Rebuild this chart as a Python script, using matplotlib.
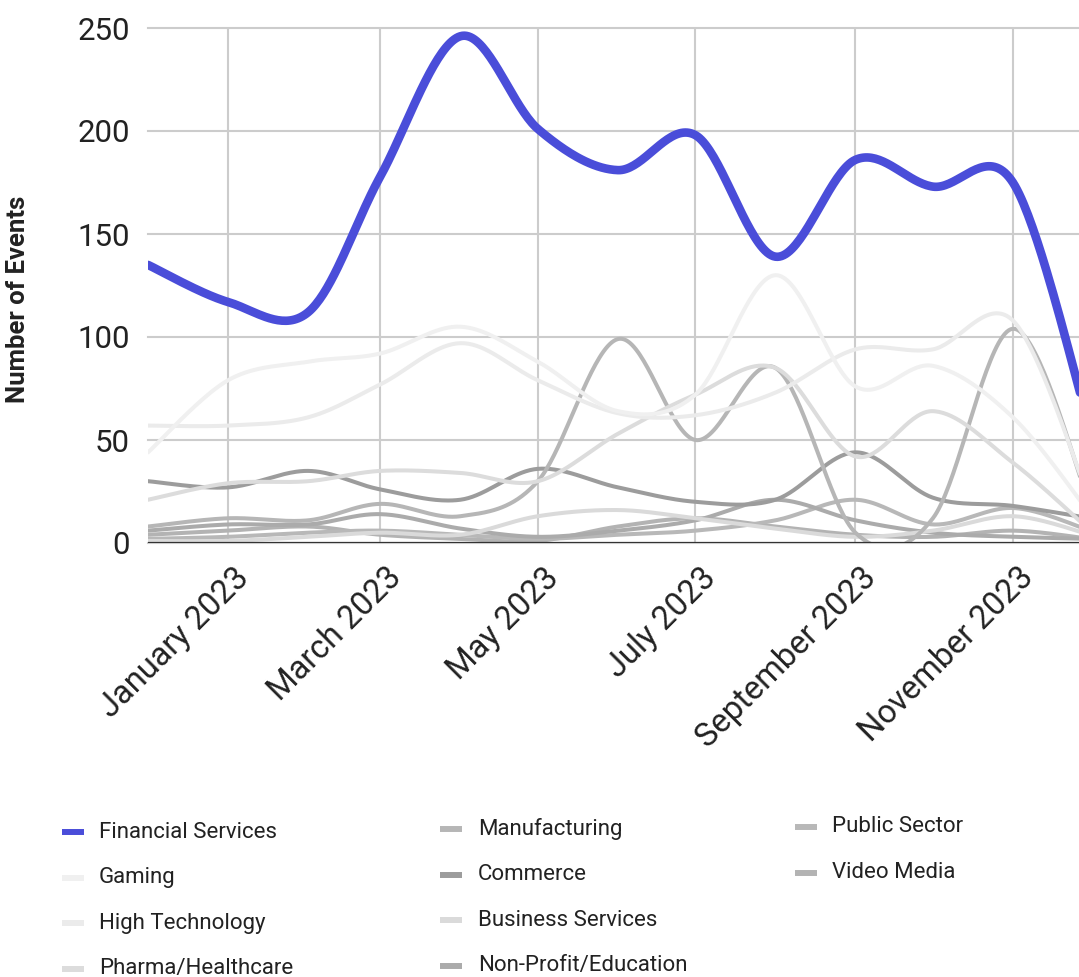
import datetime as dt
import numpy as np
import matplotlib
matplotlib.use("Agg")
import matplotlib.pyplot as plt
import matplotlib.dates as mdates
from matplotlib.lines import Line2D
from matplotlib.transforms import ScaledTranslation

plt.rcParams['font.family'] = ['Roboto', 'DejaVu Sans']

# Monthly event counts per industry, December 2022 - December 2023
months = [dt.date(2022, 12, 1)] + [dt.date(2023, m, 1) for m in range(1, 13)]

financial_services = [135, 117, 112, 178, 246, 201, 181, 198, 139, 186, 173, 175, 55]
gaming = [44, 79, 88, 92, 105, 88, 64, 72, 130, 76, 86, 61, 14]
high_technology = [57, 57, 61, 77, 97, 79, 63, 62, 73, 94, 94, 108, 20]
pharma_healthcare = [21, 29, 30, 35, 34, 30, 53, 72, 85, 42, 64, 39, 6]
manufacturing = [8, 12, 11, 19, 13, 30, 99, 50, 85, 5, 12, 104, 18]
commerce = [30, 27, 35, 26, 21, 36, 27, 20, 21, 44, 22, 18, 12]
business_services = [1, 1, 3, 5, 4, 13, 16, 12, 7, 3, 6, 13, 4]
non_profit_education = [6, 9, 9, 14, 7, 3, 6, 11, 21, 11, 5, 3, 2]
public_sector = [2, 3, 5, 6, 4, 2, 4, 6, 11, 21, 9, 17, 6]
video_media = [4, 6, 8, 4, 2, 1, 8, 12, 8, 4, 3, 6, 2]

series = [
    ("Financial Services", financial_services, "#4a4dd9"),
    ("Gaming", gaming, "#f0f0f0"),
    ("High Technology", high_technology, "#ebebeb"),
    ("Pharma/Healthcare", pharma_healthcare, "#dcdcdc"),
    ("Manufacturing", manufacturing, "#b6b6b6"),
    ("Commerce", commerce, "#9c9c9c"),
    ("Business Services", business_services, "#dadada"),
    ("Non-Profit/Education", non_profit_education, "#ababab"),
    ("Public Sector", public_sector, "#b8b8b8"),
    ("Video Media", video_media, "#b3b3b3"),
]


def smooth(x, y, steps=40):
    """Cubic Bezier curve through every point (Catmull-Rom style tangents)."""
    x = np.asarray(x, float)
    y = np.asarray(y, float)
    px = np.concatenate([[x[0]], x, [x[-1]]])
    py = np.concatenate([[y[0]], y, [y[-1]]])
    t = np.linspace(0, 1, steps)

    def bez(a, b, c, d):
        return (1 - t) ** 3 * a + 3 * (1 - t) ** 2 * t * b + 3 * (1 - t) * t ** 2 * c + t ** 3 * d

    xs, ys = [], []
    for i in range(len(x) - 1):
        x0, x1, x2, x3 = px[i:i + 4]
        y0, y1, y2, y3 = py[i:i + 4]
        xs.append(bez(x1, x1 + (x2 - x0) / 6, x2 - (x3 - x1) / 6, x2))
        ys.append(bez(y1, y1 + (y2 - y0) / 6, y2 - (y3 - y1) / 6, y2))
    return np.concatenate(xs), np.concatenate(ys)


W, H = 1079, 977
fig = plt.figure(figsize=(W / 100, H / 100), dpi=100)
ax = fig.add_axes([148 / W, 1 - 543 / H, (W - 148) / W, 515 / H])

xnum = mdates.date2num(months)
for idx, (name, values, color) in reversed(list(enumerate(series))):
    sx, sy = smooth(xnum, values)
    is_main = idx == 0
    ax.plot(sx, sy, color=color, lw=6.2 if is_main else 2.9,
            solid_joinstyle='round', solid_capstyle='round',
            zorder=5 if is_main else 3)

ax.axhline(0, color='#333333', lw=1.6, zorder=4)

ax.set_xlim(xnum[0], xnum[-1] - 4.4)
ax.set_ylim(0, 250)
ax.set_yticks(range(0, 251, 50))
ax.xaxis.set_major_locator(mdates.MonthLocator(bymonth=[1, 3, 5, 7, 9, 11]))
ax.xaxis.set_major_formatter(mdates.DateFormatter('%B %Y'))

ax.grid(True, color='#cccccc', lw=1.5)
ax.set_axisbelow(True)
for gl in ax.yaxis.get_gridlines():
    gl.set_clip_on(False)
for s in ax.spines.values():
    s.set_visible(False)

ax.tick_params(axis='both', length=0, labelsize=22.5, labelcolor='#222222')
ax.tick_params(axis='x', labelsize=23.5, pad=21.5)
ax.tick_params(axis='y', pad=13)

shift = ScaledTranslation(0.16, 0, fig.dpi_scale_trans)
for tick in ax.xaxis.get_major_ticks():
    lab = tick.label1
    lab.set_rotation(45)
    lab.set_rotation_mode('anchor')
    lab.set_ha('right')
    lab.set_va('center')
    lab.set_transform(lab.get_transform() + shift)

fig.text(18 / W, 1 - 299 / H, "Number of Events", rotation=90, ha='center',
         va='center', fontsize=18.5, fontweight='bold', color='#222222')

# Legend laid out in three columns
columns = [
    (62, 99, 832, series[0:4]),
    (440, 478, 829, series[4:8]),
    (795, 832, 827, series[8:10]),
]
pitch = 45.5
for mx, tx, y0, entries in columns:
    for r, (name, values, color) in enumerate(entries):
        yy = 1 - (y0 + r * pitch) / H
        fig.add_artist(Line2D([mx / W, (mx + 22) / W], [yy, yy], color=color,
                              lw=4.3, solid_capstyle='butt',
                              transform=fig.transFigure))
        fig.text(tx / W, yy, name, ha='left', va='center', fontsize=16,
                 color='#222222')

fig.savefig("out.png", dpi=100)
